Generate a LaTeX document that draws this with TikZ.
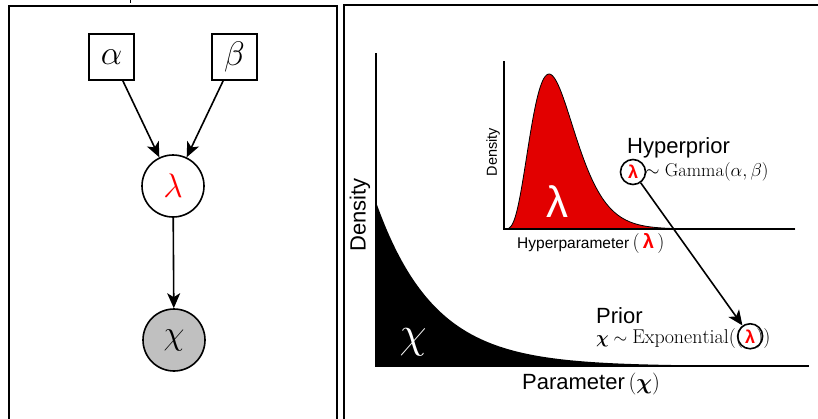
\RequirePackage{fix-cm}
\documentclass[tikz,border=0pt]{standalone}
\usepackage{fontspec}
\usepackage{amsmath}
\usetikzlibrary{arrows.meta}
\newfontfamily\hv{Liberation Sans}
\definecolor{curvered}{RGB}{226,0,0}
\definecolor{nodegray}{RGB}{192,192,192}
\begin{document}
\begin{tikzpicture}[x=1pt,y=-1pt,
  panel/.style={draw, line width=1.6pt},
  parambox/.style={draw, line width=1.6pt, minimum width=45pt, minimum height=46pt, inner sep=0pt, font=\fontsize{34}{40}\selectfont},
  varnode/.style={draw, circle, line width=1.6pt, minimum size=62pt, inner sep=0pt, font=\fontsize{34}{40}\selectfont},
  edge/.style={line width=1.6pt, -{Stealth[length=15pt,width=13pt,inset=4pt]}},
  axis/.style={line width=2pt},
  lab/.style={font=\hv\fontsize{22}{26}\selectfont, inner sep=0pt},
  smalllab/.style={font=\hv\fontsize{15.5}{18}\selectfont, inner sep=0pt},
  mathlab/.style={font=\fontsize{17.6}{20}\selectfont, inner sep=0pt},
  lamcirc/.style={circle, draw, line width=1.6pt, minimum size=25pt, inner sep=0pt, text=red, font=\hv\bfseries\fontsize{18}{20}\selectfont}
]
\useasboundingbox (0,0) rectangle (818,418);
\clip (0,0) rectangle (818,418);

% tiny fragment at top
\draw[line width=1pt] (130,0) -- (130,3);

% panels
\draw[panel] (9,6) rectangle (337,430);
\draw[panel] (344,5) rectangle (830,430);

% graphical model
\node[parambox] (alpha) at (111.5,57) {$\alpha$};
\node[parambox] (beta) at (234.5,57) {$\beta$};
\node[varnode] (lam) at (173,186) {$\color{red}\lambda$};
\node[varnode, fill=nodegray] (chi) at (174,340) {$\chi$};
\draw[edge] (alpha) -- (lam);
\draw[edge] (beta) -- (lam);
\draw[edge] (lam) -- (chi);

% main plot
\coordinate (o) at (376,366);
\coordinate (ytop) at (376,53);
\coordinate (xend) at (809,366);
\fill[black] (376,366) -- plot[domain=376:809, samples=200] (\x, {366-164*exp(-(\x-376)/58)}) -- (809,366) -- cycle;
\draw[axis] (ytop) -- (o) -- (xend);
\node[lab, rotate=90] (dens) at (360,215) {Density};
\node[lab, anchor=base west] (param) at (522,389) {Parameter$\,(\boldsymbol{\chi})$};
\node[text=white, inner sep=0pt, font=\fontsize{44}{50}\selectfont] (chilab) at (413,342) {$\chi$};

% inset plot
\coordinate (io) at (504,229);
\coordinate (iytop) at (504,61);
\coordinate (ixend) at (795,229);
\fill[curvered] (504,229) -- plot[domain=504.1:795, samples=250] (\x, {229-155*exp(4*ln((\x-504)/45)-4*((\x-504)/45)+4)}) -- (795,229) -- cycle;
\draw[line width=0.8pt] (504,229) -- plot[domain=504.1:795, samples=250] (\x, {229-155*exp(4*ln((\x-504)/45)-4*((\x-504)/45)+4)});
\draw[axis] (iytop) -- (io) -- (ixend);
\node[smalllab, rotate=90, font=\hv\fontsize{14.5}{17}\selectfont] (idens) at (493,152) {Density};
\node[smalllab, anchor=base west] (hparam) at (517,248) {Hyperparameter\fontsize{20}{22}\selectfont$\,(\,$\hv\bfseries\textcolor{red}{λ}$\,)$};
\node[text=white, inner sep=0pt, font=\hv\fontsize{44}{50}\selectfont] (lamlab) at (557,202) {λ};

% hyperprior
\node[lab, anchor=base west] (hyper) at (627,153) {Hyperprior};
\node[lamcirc] (hl) at (633,172) {λ};
\node[mathlab, anchor=west, font=\fontsize{18.6}{21}\selectfont] (gam) at (645,172) {$\sim\mathrm{Gamma}(\alpha,\beta)$};

% prior
\node[lab, anchor=base west] (prior) at (596,323) {Prior};
\node[mathlab, anchor=base west] (expo) at (596,343) {$\boldsymbol{\chi}\sim{}${\fontsize{20}{22}\selectfont$\mathrm{Exponential}(($}};
\node[lamcirc, anchor=base] (pl) at ([xshift=7pt]expo.base east) {λ};
\node[mathlab, anchor=base west, font=\fontsize{20}{22}\selectfont] (close) at ([xshift=6pt]pl.base) {$))$};

\draw[edge] (hl) -- (pl);
\end{tikzpicture}
\end{document}
